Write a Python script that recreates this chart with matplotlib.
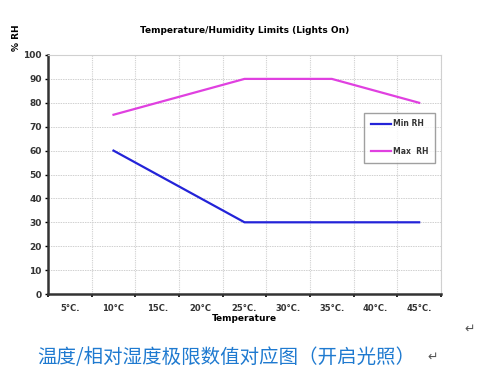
import matplotlib.pyplot as plt
import numpy as np

plt.rcParams['font.family'] = ['DejaVu Sans', 'Noto Sans CJK SC']

# data
temps = ['5°C.', '10°C', '15C.', '20°C', '25°C.', '30°C.', '35°C.', '40°C.', '45°C.']
min_rh_x = ['10°C', '15C.', '20°C', '25°C.', '30°C.', '35°C.', '40°C.', '45°C.']
min_rh = [60, 50, 40, 30, 30, 30, 30, 30]
max_rh_x = ['10°C', '15C.', '20°C', '25°C.', '30°C.', '35°C.', '40°C.', '45°C.']
max_rh = [75, 80, 85, 90, 90, 90, 85, 80]
yticks = [0, 10, 20, 30, 40, 50, 60, 70, 80, 90, 100]

fig = plt.figure(figsize=(4.85, 3.83), dpi=100)
ax = fig.add_axes([48 / 485, 1 - 294 / 383, (441 - 48) / 485, (294 - 55) / 383])

pos = {t: i for i, t in enumerate(temps)}
ax.plot([pos[t] for t in min_rh_x], min_rh, color='#2323d8', lw=1.6, label='Min RH')
ax.plot([pos[t] for t in max_rh_x], max_rh, color='#e040e0', lw=1.6, label='Max  RH')

ax.set_xlim(-0.5, len(temps) - 0.5)
ax.set_ylim(0, 100)
ax.set_yticks(yticks)
ax.set_xticks(np.arange(-0.5, len(temps), 1.0))
ax.set_xticklabels([])
ax.set_xticks(np.arange(len(temps)), minor=True)
ax.set_xticklabels(temps, minor=True)
ax.tick_params(axis='x', which='minor', length=0, pad=7, labelsize=6)
ax.tick_params(axis='x', which='major', length=2, width=1.2, direction='out')
ax.tick_params(axis='y', length=2.5, width=1, labelsize=6.5, pad=2)
for lab in ax.get_yticklabels() + ax.get_xticklabels(minor=True):
    lab.set_fontweight('bold')
    lab.set_color('#333333')

ax.grid(axis='x', which='major', color='#d0d0d0', ls=(0, (1, 1)), lw=0.8)
ax.grid(axis='y', color='#d0d0d0', ls=(0, (1.5, 1)), lw=0.7)
ax.spines['left'].set_linewidth(1.8)
ax.spines['left'].set_color('#333333')
ax.spines['bottom'].set_linewidth(1.8)
ax.spines['bottom'].set_color('#333333')
ax.spines['top'].set_color('#d0d0d0')
ax.spines['right'].set_color('#d0d0d0')

ax.set_xlabel('Temperature', fontsize=6.5, fontweight='bold', labelpad=1)
ax.set_title('Temperature/Humidity Limits (Lights On)', fontsize=6.5,
             fontweight='bold', pad=16)
fig.text(17 / 485, 1 - 38 / 383, '% RH', rotation=90, fontsize=6.5,
         fontweight='bold', ha='center', va='center')

leg = ax.legend(loc='upper right', bbox_to_anchor=(0.995, 0.775), fontsize=5.5,
                frameon=True, fancybox=False, edgecolor='#888888',
                handlelength=2.6, handletextpad=0.3, labelspacing=2.4,
                borderpad=0.9)
for t in leg.get_texts():
    t.set_fontweight('bold')
    t.set_color('#333333')

fig.text(470 / 485, 1 - 329 / 383, '↵', fontsize=9, color='#555555',
         ha='center', va='center')
fig.text(37 / 485, 1 - 357 / 383, '温度/相对湿度极限数值对应图（开启光照）',
         fontsize=14, color='#1f7ad0', ha='left', va='center',
         family=['Noto Sans CJK SC', 'DejaVu Sans'])
fig.text(433 / 485, 1 - 357 / 383, '↵', fontsize=9, color='#555555',
         ha='center', va='center')

fig.savefig('out.png', dpi=100)
